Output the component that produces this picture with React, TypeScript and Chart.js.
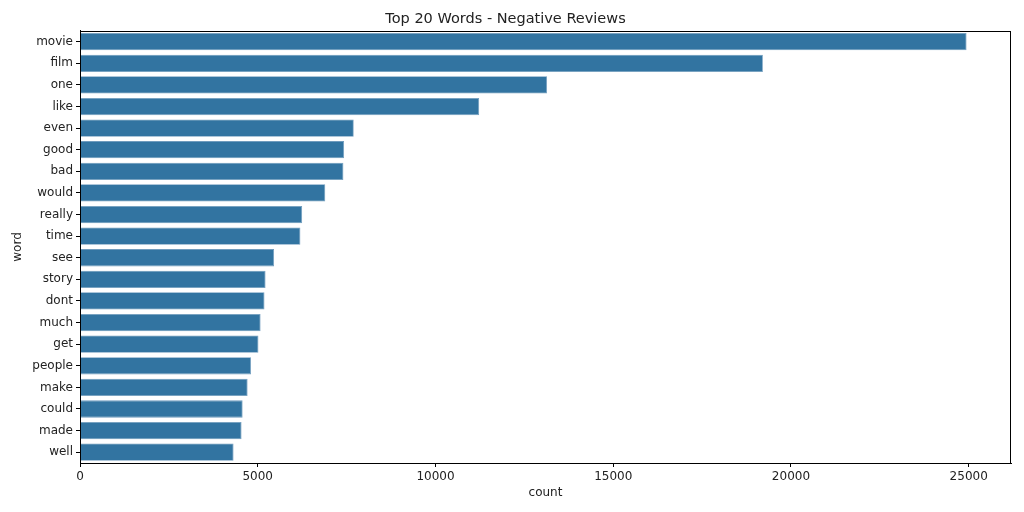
import React, { useEffect, useRef } from "react";
import { Chart, registerables } from "chart.js";

Chart.register(...registerables);

const words = [
  "movie", "film", "one", "like", "even", "good", "bad", "would", "really", "time",
  "see", "story", "dont", "much", "get", "people", "make", "could", "made", "well",
];
const counts = [
  24940, 19210, 13140, 11230, 7700, 7430, 7410, 6900, 6250, 6200,
  5460, 5220, 5190, 5080, 5020, 4810, 4715, 4575, 4545, 4320,
];
const xMax = 26190;
const xStep = 5000;
const chartTitle = "Top 20 Words - Negative Reviews";
const xTitle = "count";
const yTitle = "word";

const FONT = "'DejaVu Sans', sans-serif";
const TEXT = "#222";

const frame = {
  id: "frame",
  afterDraw(chart: any) {
    const { ctx, chartArea } = chart;
    ctx.save();
    ctx.strokeStyle = "#000";
    ctx.lineWidth = 1;
    ctx.strokeRect(
      Math.round(chartArea.left) + 0.5,
      Math.round(chartArea.top) + 0.5,
      Math.round(chartArea.right - chartArea.left) - 1,
      Math.round(chartArea.bottom - chartArea.top)
    );
    ctx.restore();
  },
};

export default function App() {
  const ref = useRef<HTMLCanvasElement | null>(null);
  useEffect(() => {
    document.body.style.margin = "0";
    const chart = new Chart(ref.current as HTMLCanvasElement, {
      type: "bar",
      data: {
        labels: words,
        datasets: [
          {
            data: counts,
            backgroundColor: "#3274a1",
            borderColor: "#6f9bbd",
            borderWidth: 0.8,
            categoryPercentage: 1,
            barPercentage: 0.8,
          },
        ],
      },
      options: {
        indexAxis: "y",
        animation: false,
        responsive: false,
        devicePixelRatio: 1,
        layout: { padding: { left: 0, right: 13, top: 0, bottom: 0 } },
        plugins: {
          legend: { display: false },
          tooltip: { enabled: false },
          title: {
            display: true,
            text: chartTitle,
            color: TEXT,
            font: { family: FONT, size: 14.5, weight: "normal" },
            padding: { top: 11, bottom: 2.5 },
          },
        },
        scales: {
          x: {
            type: "linear",
            min: 0,
            max: xMax,
            afterBuildTicks: (scale: any) => {
              const t = [];
              for (let v = 0; v <= xMax; v += xStep) t.push({ value: v });
              scale.ticks = t;
            },
            afterFit: (scale: any) => {
              scale.height = 49;
            },
            ticks: {
              color: TEXT,
              font: { family: FONT, size: 12 },
              padding: 3,
              maxRotation: 0,
              callback: (v: any) => String(v),
            },
            grid: {
              drawOnChartArea: false,
              drawTicks: true,
              tickLength: 4,
              color: "#000",
            },
            border: { display: true, color: "#000", width: 1 },
            title: {
              display: true,
              text: xTitle,
              color: TEXT,
              font: { family: FONT, size: 12 },
              padding: { top: 0, bottom: 12 },
            },
          },
          y: {
            type: "category",
            offset: true,
            afterFit: (scale: any) => {
              scale.width = 80;
            },
            ticks: {
              color: TEXT,
              font: { family: FONT, size: 12 },
              padding: 3,
              autoSkip: false,
            },
            grid: {
              drawOnChartArea: false,
              drawTicks: true,
              tickLength: 4,
              color: "#000",
              offset: false,
            },
            border: { display: true, color: "#000", width: 1 },
            title: {
              display: true,
              text: yTitle,
              color: TEXT,
              font: { family: FONT, size: 12 },
              padding: { top: 11, bottom: 0 },
            },
          },
        },
      },
      plugins: [frame],
    } as any);
    return () => chart.destroy();
  }, []);
  return (
    <div style={{ position: "absolute", left: 0, top: 0, width: 1024, height: 512, background: "#fff" }}>
      <canvas ref={ref} width={1024} height={512} style={{ width: 1024, height: 512 }} />
    </div>
  );
}
